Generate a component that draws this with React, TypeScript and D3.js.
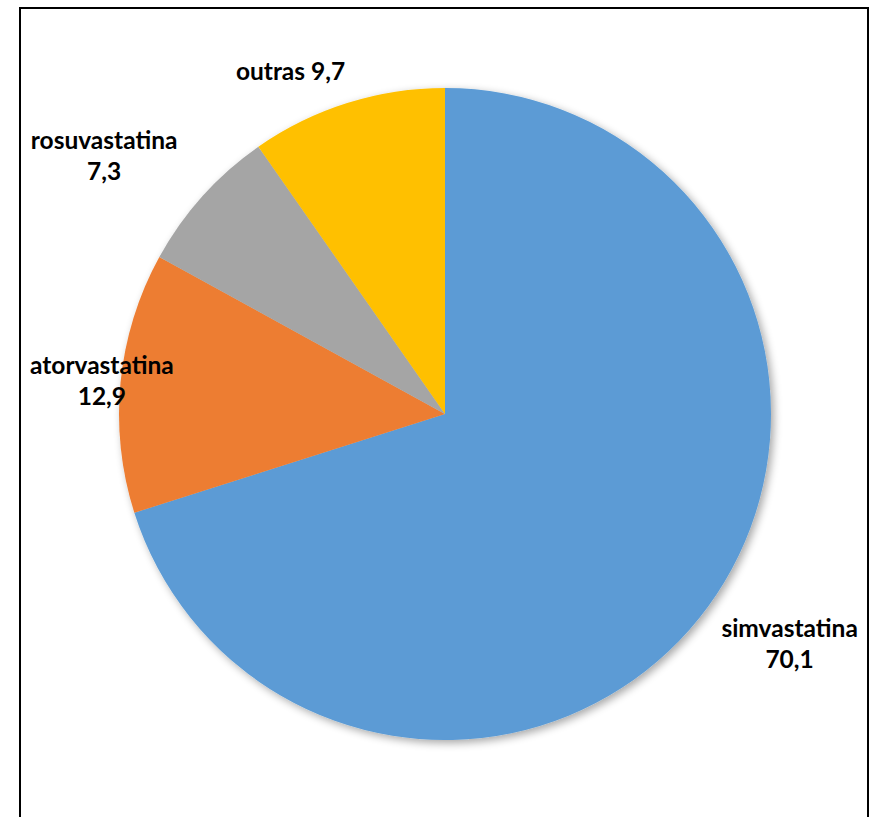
import React from "react";
import * as d3 from "d3";

const categories = ["simvastatina", "atorvastatina", "rosuvastatina", "outras"];
const values = [70.1, 12.9, 7.3, 9.7];
const valueLabels = ["70,1", "12,9", "7,3", "9,7"];
const colors = ["#5B9BD5", "#ED7D31", "#A5A5A5", "#FFC000"];

const W = 875;
const H = 817;
const cx = 445;
const cy = 414;
const R = 326;

// label layout nudges (px) relative to polar position
const nudges: Record<string, [number, number]> = {
  simvastatina: [42, 8],
  atorvastatina: [30, 2],
  rosuvastatina: [-62, -8],
  outras: [-42, 16],
};

export default function App() {
  const pie = d3.pie<number>().sort(null).value((d) => d);
  const arcs = pie(values);
  const arc = d3.arc<d3.PieArcDatum<number>>().innerRadius(0).outerRadius(R);
  const labelR = R * 1.15;
  const font = "Lato, 'Open Sans', sans-serif";

  return (
    <svg width={W} height={H} style={{ position: "absolute", left: 0, top: 0 }}>
      <defs>
        <filter id="sh" x="-20%" y="-20%" width="140%" height="140%">
          <feGaussianBlur in="SourceAlpha" stdDeviation="4" />
          <feOffset dx="3" dy="3" result="b" />
          <feComponentTransfer>
            <feFuncA type="linear" slope="0.35" />
          </feComponentTransfer>
          <feMerge>
            <feMergeNode />
            <feMergeNode in="SourceGraphic" />
          </feMerge>
        </filter>
      </defs>
      <rect x={0} y={0} width={W} height={H} fill="#fff" />
      <rect x={20} y={8} width={848} height={830} fill="#fff" stroke="#000" strokeWidth={2} />
      <g transform={`translate(${cx},${cy})`}>
        <g filter="url(#sh)">
          {arcs.map((a, i) => (
            <path key={categories[i]} d={arc(a) || ""} fill={colors[i]} />
          ))}
        </g>
        {arcs.map((a, i) => {
          const mid = (a.startAngle + a.endAngle) / 2;
          const n = nudges[categories[i]];
          const x = Math.sin(mid) * labelR + n[0];
          const y = -Math.cos(mid) * labelR + n[1];
          const oneLine = categories[i] === "outras";
          return (
            <text
              key={categories[i]}
              x={x}
              y={y}
              textAnchor="middle"
              fontFamily={font}
              fontWeight="bold"
              fontSize={24.5}
              fill="#000"
            >
              {oneLine ? (
                <tspan x={x} dy={8}>{`${categories[i]} ${valueLabels[i]}`}</tspan>
              ) : (
                <>
                  <tspan x={x} dy={-6}>{categories[i]}</tspan>
                  <tspan x={x} dy={31}>{valueLabels[i]}</tspan>
                </>
              )}
            </text>
          );
        })}
      </g>
    </svg>
  );
}
